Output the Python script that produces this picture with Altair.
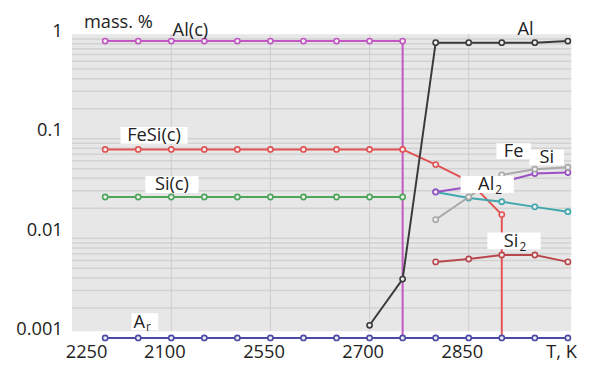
import altair as alt
import pandas as pd

# ---------------- data ----------------
T_AL_C = [2300, 2350, 2400, 2450, 2500, 2550, 2600, 2650, 2700, 2750, 2750]
V_AL_C = [0.955, 0.955, 0.955, 0.955, 0.955, 0.955, 0.955, 0.955, 0.955, 0.955, 0.001]

T_FESI_C = [2300, 2350, 2400, 2450, 2500, 2550, 2600, 2650, 2700, 2750, 2800, 2850, 2900, 2900]
V_FESI_C = [0.078, 0.078, 0.078, 0.078, 0.078, 0.078, 0.078, 0.078, 0.078, 0.078, 0.055, 0.0375, 0.0173, 0.001]

T_SI_C = [2300, 2350, 2400, 2450, 2500, 2550, 2600, 2650, 2700, 2750]
V_SI_C = [0.026, 0.026, 0.026, 0.026, 0.026, 0.026, 0.026, 0.026, 0.026, 0.026]

T_AL = [2700, 2750, 2800, 2850, 2900, 2950, 3000]
V_AL = [0.00134, 0.0039, 0.92, 0.92, 0.92, 0.92, 0.955]

T_GAS = [2800, 2850, 2900, 2950, 3000]
V_AL2 = [0.0292, 0.0254, 0.0233, 0.0207, 0.0185]
V_SI = [0.0292, 0.0328, 0.0366, 0.0447, 0.0458]
V_FE = [0.0154, 0.026, 0.0434, 0.0494, 0.0517]
V_SI2 = [0.0058, 0.0062, 0.0068, 0.0068, 0.0058]

T_AR = [2300, 2350, 2400, 2450, 2500, 2550, 2600, 2650, 2700, 2750, 2800, 2850, 2900, 2950, 3000]
V_AR = [0.001, 0.001, 0.001, 0.001, 0.001, 0.001, 0.001, 0.001, 0.001, 0.001, 0.001, 0.001, 0.001, 0.001, 0.001]

SERIES = [
    ("Al(c)", T_AL_C, V_AL_C),
    ("FeSi(c)", T_FESI_C, V_FESI_C),
    ("Si(c)", T_SI_C, V_SI_C),
    ("Al", T_AL, V_AL),
    ("Al2", T_GAS, V_AL2),
    ("Si", T_GAS, V_SI),
    ("Fe", T_GAS, V_FE),
    ("Si2", T_GAS, V_SI2),
    ("Ar", T_AR, V_AR),
]
COLORS = ["#c256c2", "#e25252", "#4ea65a", "#3a3a3a", "#3fa7ad",
          "#9b4fc4", "#a9a9a9", "#b9484d", "#4b4ba6"]

X_TICKS = [2250, 2400, 2550, 2700, 2850, 3000]
X_TICK_LABELS = ["2250", "2100", "2550", "2700", "2850", "T, K"]
Y_TICKS = [0.001, 0.01, 0.1, 1]

X_DOMAIN = [2250, 3005]
Y_DOMAIN = [0.001, 1.12]
PANEL_BOTTOM = 0.00117
V_GRID = [2400, 2550, 2700, 2850]
H_GRID = [m * 10.0 ** k for k in (-3, -2, -1, 0) for m in range(1, 10)
          if PANEL_BOTTOM < m * 10.0 ** k < Y_DOMAIN[1]]

# annotations: plain texts (centered), boxes, and subscripted labels
TEXTS = [
    ("mass. %", 2320, 1.47),
    ("Al(c)", 2429, 1.228),
    ("FeSi(c)", 2374, 0.108),
    ("Si(c)", 2401, 0.0347),
    ("Fe", 2918, 0.0752),
    ("Si", 2968, 0.065),
    ("Al", 2936, 1.256),
]
SUB_TEXTS = [("A", "r", 2360.4, 0.00146), ("Al", "2", 2888.6, 0.0347), ("Si", "2", 2925.2, 0.00945)]
BOXES = [  # centre T, centre value, box width px, box height px
    (2374, 0.108, 68, 17),
    (2401, 0.0347, 54, 17),
    (2360, 0.00146, 27, 17),
    (2918, 0.0752, 35, 16),
    (2968, 0.065, 35, 16),
    (2878, 0.0347, 54, 17),
    (2918.5, 0.00945, 54, 17),
]

# ---------------- build tables ----------------
rows = []
for s_i, (name, ts, vs) in enumerate(SERIES):
    for i, (t, v) in enumerate(zip(ts, vs)):
        rows.append({"series": name, "T": t, "v": v, "i": i, "so": s_i,
                     "marker": not (i > 0 and ts[i - 1] == t)})
df = pd.DataFrame(rows)

FONT = "Open Sans"
FS = 18.5
TXT = "#222222"

xscale = alt.Scale(domain=X_DOMAIN, nice=False, zero=False)
yscale = alt.Scale(type="log", domain=Y_DOMAIN, nice=False)

label_expr = " : ".join(
    f"datum.value == {v} ? '{l}'" for v, l in zip(X_TICKS, X_TICK_LABELS)) + " : ''"

xaxis = alt.Axis(values=X_TICKS, labelExpr=label_expr, grid=False, ticks=False, domain=False,
                 labelFlush=True, labelOffset=-7, labelPadding=5, labelFontSize=FS,
                 labelFont=FONT, labelColor=TXT, labelOverlap=False, title=None)
yaxis = alt.Axis(values=Y_TICKS, format="~g", grid=False, ticks=False, domain=False,
                 labelFlush=False, labelOffset=-9, labelPadding=10, labelFontSize=FS,
                 labelFont=FONT, labelColor=TXT, labelOverlap=False, title=None)


def X(f):
    return alt.X(f, type="quantitative", scale=xscale, axis=xaxis, title=None)


def Y(f):
    return alt.Y(f, type="quantitative", scale=yscale, axis=yaxis, title=None)


color = alt.Color("series:N", scale=alt.Scale(domain=[s[0] for s in SERIES], range=COLORS),
                  legend=None)

panel_df = pd.DataFrame({"x0": [X_DOMAIN[0]], "x1": [X_DOMAIN[1]],
                         "y0": [PANEL_BOTTOM], "y1": [Y_DOMAIN[1]]})
panel = alt.Chart(panel_df).mark_rect(color="#e7e7e7").encode(
    x=X("x0"), x2=alt.X2("x1"), y=Y("y0"), y2=alt.Y2("y1"))

hgrid = alt.Chart(pd.DataFrame({"g": H_GRID})).mark_rule(color="#d2d2d2", strokeWidth=1.5).encode(
    y=Y("g"))
vgrid = alt.Chart(pd.DataFrame({"g": V_GRID, "y0": PANEL_BOTTOM, "y1": Y_DOMAIN[1]})).mark_rule(
    color="#cdcdcd", strokeWidth=1).encode(x=X("g"), y=Y("y0"), y2=alt.Y2("y1"))

lines = alt.Chart(df).mark_line(strokeWidth=2).encode(
    x=X("T"), y=Y("v"), color=color, detail="series:N", order="i:Q")

points = alt.Chart(df).transform_filter("datum.marker").mark_point(
    filled=False, fill="#eeeeee", fillOpacity=1, size=28, strokeWidth=1.6, opacity=1).encode(
    x=X("T"), y=Y("v"), color=color)

box_df = pd.DataFrame([{
    "T": t, "v": v,
    "path": f"M{-w / 100:.3f},{-h / 100:.3f}H{w / 100:.3f}V{h / 100:.3f}H{-w / 100:.3f}Z"}
    for t, v, w, h in BOXES])
boxes = alt.Chart(box_df).mark_point(filled=True, size=10000, color="white", opacity=1,
                                     strokeWidth=0).encode(
    x=X("T"), y=Y("v"), shape=alt.Shape("path:N", scale=None))

text_df = pd.DataFrame([{"text": s, "T": t, "v": v} for s, t, v in TEXTS])
texts = alt.Chart(text_df).mark_text(font=FONT, fontSize=FS, color=TXT, align="center",
                                     baseline="middle").encode(
    x=X("T"), y=Y("v"), text="text:N")

sub_df = pd.DataFrame([{"main": m, "sub": s, "T": t, "v": v} for m, s, t, v in SUB_TEXTS])
sub_main = alt.Chart(sub_df).mark_text(font=FONT, fontSize=FS, color=TXT, align="right",
                                       baseline="middle").encode(
    x=X("T"), y=Y("v"), text="main:N")
sub_small = alt.Chart(sub_df).mark_text(font=FONT, fontSize=12, color=TXT, align="left",
                                        baseline="middle", dx=1, dy=6).encode(
    x=X("T"), y=Y("v"), text="sub:N")

chart = alt.layer(panel, hgrid, vgrid, lines, points, boxes, texts, sub_main, sub_small).properties(
    width=506, height=308, autosize="none",
    padding={"left": 65, "top": 24, "right": 14, "bottom": 34},
    background="white",
).configure_view(stroke=None)

chart.save("out.html", embed_options={"renderer": "svg", "actions": False})
